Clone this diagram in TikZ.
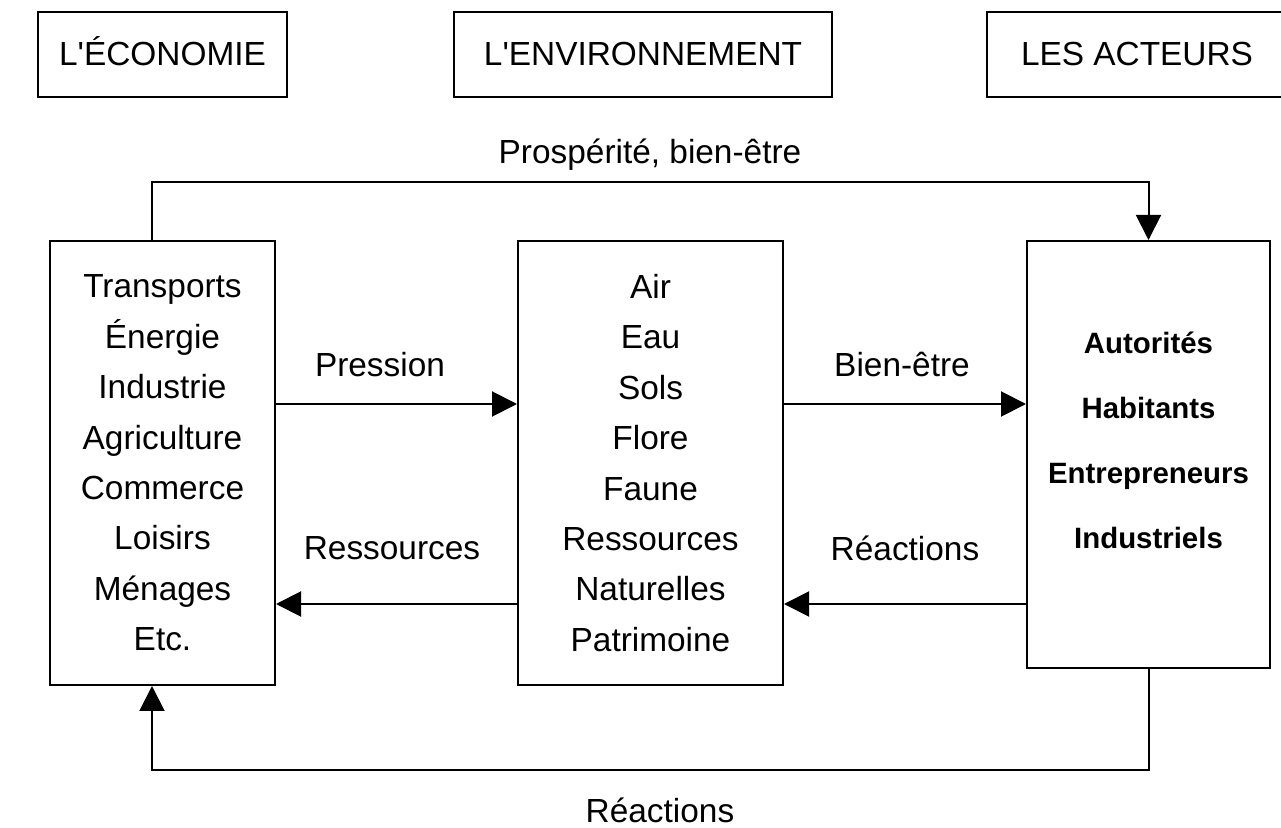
\documentclass[tikz,border=0pt]{standalone}
\usepackage{fontspec}
\setmainfont{Liberation Sans}
\usetikzlibrary{arrows.meta}

\begin{document}
\begin{tikzpicture}[x=0.5pt,y=-0.5pt,
        titre/.style={draw,line width=1pt,minimum height=42.5pt,text height=12.5pt,text depth=1pt,font=\fontsize{16.7}{20}\selectfont},
        bloc/.style={draw,line width=1pt,align=center,font=\fontsize{16.7}{25.2}\selectfont},
        fleche/.style={line width=1pt,-{Triangle[length=12.5pt,width=12.5pt]}},
        lbl/.style={font=\fontsize{16.7}{20}\selectfont}]
    \useasboundingbox (0,0) rectangle (1281,828);
        \node[titre,minimum width=124.5pt] (teco) at (162.5,54.5) {L\textquotesingle ÉCONOMIE};
        \node[titre,minimum width=189pt] (tenv) at (643,54.5) {L\textquotesingle ENVIRONNEMENT};
        \node[titre,minimum width=150pt] (tact) at (1137,54.5) {LES ACTEURS};
        \node[bloc,minimum width=112.5pt,minimum height=222pt] (econ) at (162.5,463)
            {Transports\\Énergie\\Industrie\\Agriculture\\Commerce\\Loisirs\\Ménages\\Etc.};
        \node[bloc,minimum width=132.5pt,minimum height=222pt] (milieu) at (650.5,463)
            {Air\\Eau\\Sols\\Flore\\Faune\\Ressources\\Naturelles\\Patrimoine};
        \node[bloc,minimum width=121.5pt,minimum height=213.5pt] (acteurs) at (1148.5,454.5) {};
        \node[align=center,font=\bfseries\fontsize{14.7}{32.5}\selectfont] (liste) at (1148.5,440)
            {Autorités\\Habitants\\Entrepreneurs\\Industriels};
        \coordinate (rangH) at (0,404);
        \coordinate (rangB) at (0,604);
        \coordinate (haut) at (650,182);
        \coordinate (bas) at (650,770);
        \draw[fleche] (econ.east |- rangH) -- (milieu.west |- rangH);
        \draw[fleche] (milieu.east |- rangH) -- (acteurs.west |- rangH);
        \draw[fleche] (milieu.west |- rangB) -- (econ.east |- rangB);
        \draw[fleche] (acteurs.west |- rangB) -- (milieu.east |- rangB);
        \draw[fleche] ([xshift=-5.25pt]econ.north) |- (haut) -| (acteurs.north);
        \draw[fleche] (acteurs.south) |- (bas) -| ([xshift=-5.25pt]econ.south);
        \node[lbl] (pression) at (380,365) {Pression};
        \node[lbl] (bienetre) at (902,365) {Bien-être};
        \node[lbl] (ressources) at (392,548) {Ressources};
        \node[lbl] (reactions) at (905,548) {Réactions};
        \node[lbl] (prosperite) at (650,155) {Prospérité, bien-être};
        \node[lbl] (reactbas) at (660,810) {Réactions};
    \end{tikzpicture}
\end{document}
